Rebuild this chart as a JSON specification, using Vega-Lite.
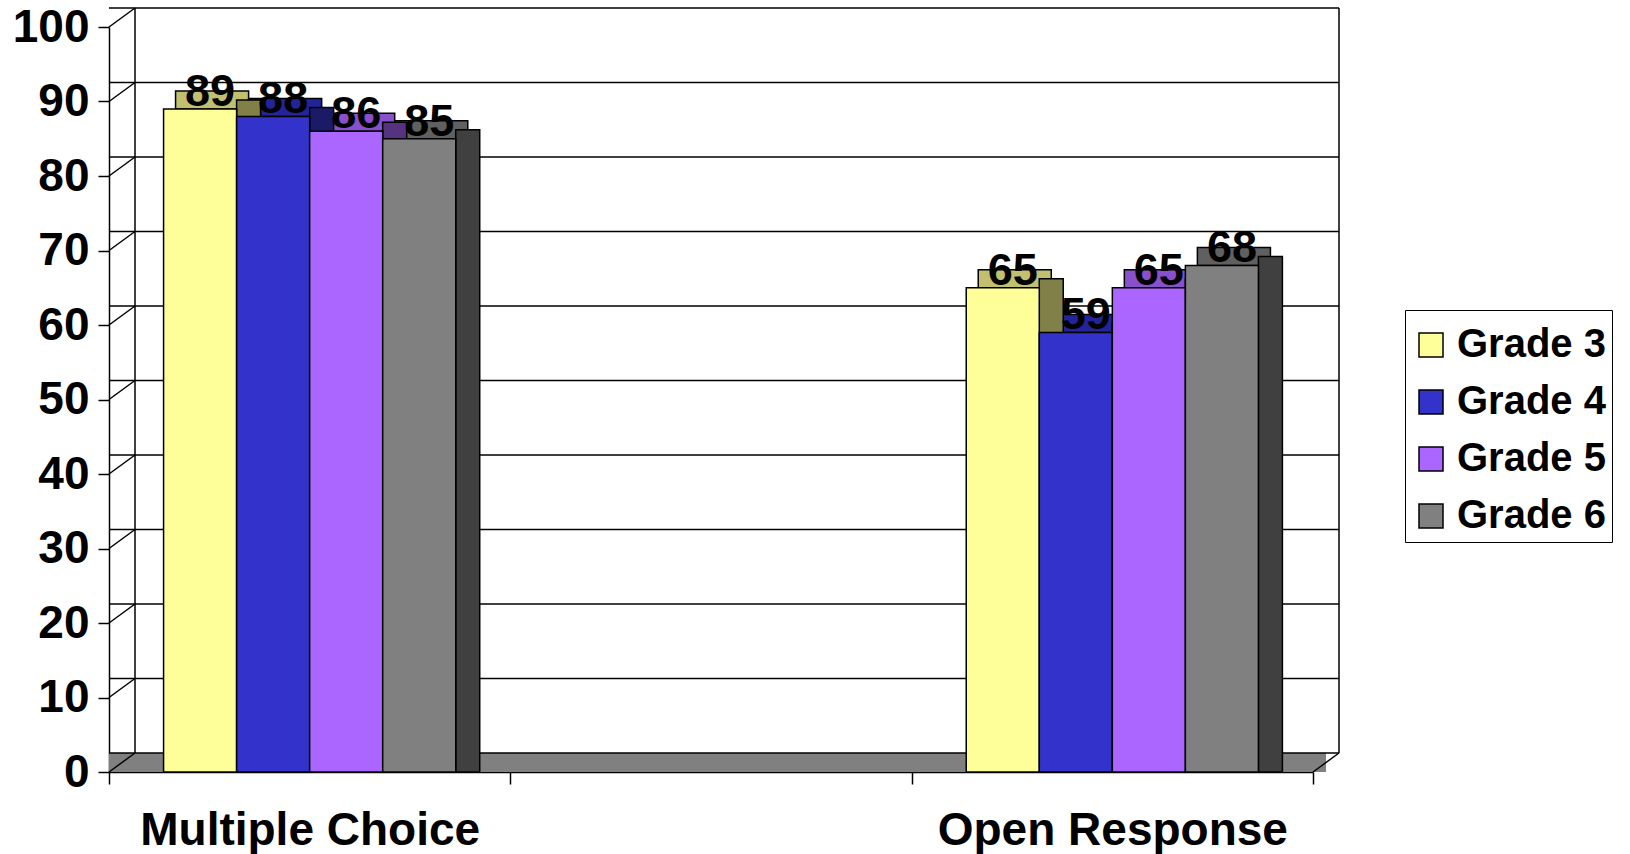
{
  "$schema": "https://vega.github.io/schema/vega-lite/v6.json",
  "width": 1204,
  "height": 745,
  "autosize": {"type": "none"},
  "padding": {"left": 109, "top": 27, "right": 317, "bottom": 82},
  "background": "white",
  "config": {
    "view": {"stroke": null},
    "font": "Liberation Sans",
    "axis": {"domainColor": "black", "domainWidth": 1.5, "tickColor": "black", "tickWidth": 1.5, "labelColor": "black", "labelFont": "Liberation Sans", "labelFontWeight": "bold", "grid": false, "zindex": 1, "labelLimit": 0},
    "axisX": {"tickSize": 12, "labelFontSize": 46, "labelPadding": 24, "tickBand": "extent", "labelAngle": 0},
    "axisY": {"tickSize": 11, "labelFontSize": 46, "labelPadding": 9},
    "legend": {"strokeColor": "black", "padding": 6, "symbolType": "square", "symbolSize": 576, "symbolStrokeColor": "black", "symbolStrokeWidth": 1.5, "labelFontSize": 40, "labelFont": "Liberation Sans", "labelFontWeight": "bold", "labelColor": "black", "rowPadding": 17, "labelOffset": 6, "fillColor": "white", "titleFontSize": 2, "titlePadding": 7}
  },
  "datasets": {
    "scores": [
      {"category": "Multiple Choice", "grade": "Grade 3", "value": 89},
      {"category": "Multiple Choice", "grade": "Grade 4", "value": 88},
      {"category": "Multiple Choice", "grade": "Grade 5", "value": 86},
      {"category": "Multiple Choice", "grade": "Grade 6", "value": 85},
      {"category": "Open Response", "grade": "Grade 3", "value": 65},
      {"category": "Open Response", "grade": "Grade 4", "value": 59},
      {"category": "Open Response", "grade": "Grade 5", "value": 65},
      {"category": "Open Response", "grade": "Grade 6", "value": 68}
    ],
    "grid": [
      {"tick": 0}, {"tick": 10}, {"tick": 20}, {"tick": 30}, {"tick": 40}, {"tick": 50},
      {"tick": 60}, {"tick": 70}, {"tick": 80}, {"tick": 90}, {"tick": 100}
    ]
  },
  "resolve": {"scale": {"color": "independent", "xOffset": "independent"}},
  "layer": [
    {
      "data": {"name": "grid"},
      "transform": [{"filter": "datum.tick == 0"}],
      "mark": {"type": "rule", "color": "#808080", "strokeWidth": 19, "xOffset": 13, "x2Offset": 13, "yOffset": -9.5},
      "encoding": {
        "y": {"field": "tick", "type": "quantitative", "scale": {"domain": [0, 100], "nice": false}, "title": null, "axis": {"values": [0, 10, 20, 30, 40, 50, 60, 70, 80, 90, 100]}}
      }
    },
    {
      "data": {"name": "grid"},
      "mark": {"type": "rule", "color": "black", "strokeWidth": 1.5, "xOffset": 26, "x2Offset": 26, "yOffset": -19},
      "encoding": {
        "y": {"field": "tick", "type": "quantitative", "title": null}
      }
    },
    {
      "data": {"name": "grid"},
      "mark": {"type": "rule", "color": "black", "strokeWidth": 1.5, "x2Offset": 26, "y2Offset": -19},
      "encoding": {
        "x": {"datum": "Multiple Choice", "type": "nominal", "bandPosition": 0, "title": null, "scale": {"type": "band", "domain": ["Multiple Choice", " ", "Open Response"], "paddingInner": 0, "paddingOuter": 0}},
        "x2": {"datum": "Multiple Choice", "bandPosition": 0},
        "y": {"field": "tick", "type": "quantitative", "title": null},
        "y2": {"field": "tick"}
      }
    },
    {
      "data": {"name": "grid"},
      "transform": [{"filter": "datum.tick == 0"}],
      "mark": {"type": "rule", "color": "black", "strokeWidth": 1.5, "xOffset": 26, "yOffset": -19, "y2Offset": -19},
      "encoding": {
        "x": {"datum": "Multiple Choice", "type": "nominal", "bandPosition": 0, "title": null, "scale": {"type": "band", "domain": ["Multiple Choice", " ", "Open Response"], "paddingInner": 0, "paddingOuter": 0}},
        "y": {"field": "tick", "type": "quantitative", "title": null},
        "y2": {"datum": 100}
      }
    },
    {
      "data": {"name": "grid"},
      "transform": [{"filter": "datum.tick == 0"}],
      "mark": {"type": "rule", "color": "black", "strokeWidth": 1.5, "xOffset": 26, "yOffset": -19, "y2Offset": -19},
      "encoding": {
        "x": {"datum": "Open Response", "type": "nominal", "bandPosition": 1, "title": null, "scale": {"type": "band", "domain": ["Multiple Choice", " ", "Open Response"], "paddingInner": 0, "paddingOuter": 0}},
        "y": {"field": "tick", "type": "quantitative", "title": null},
        "y2": {"datum": 100}
      }
    },
    {
      "data": {"name": "grid"},
      "transform": [{"filter": "datum.tick == 0"}],
      "mark": {"type": "rule", "color": "black", "strokeWidth": 1.5, "x2Offset": 26, "y2Offset": -19},
      "encoding": {
        "x": {"datum": "Open Response", "type": "nominal", "bandPosition": 1, "title": null, "scale": {"type": "band", "domain": ["Multiple Choice", " ", "Open Response"], "paddingInner": 0, "paddingOuter": 0}},
        "x2": {"datum": "Open Response", "bandPosition": 1},
        "y": {"field": "tick", "type": "quantitative", "title": null},
        "y2": {"field": "tick"}
      }
    },
    {
      "data": {"name": "scores"},
      "mark": {"type": "bar", "stroke": "black", "strokeWidth": 1.5, "y2Offset": -18},
      "encoding": {
        "x": {"field": "category", "type": "nominal", "title": null, "scale": {"type": "band", "domain": ["Multiple Choice", " ", "Open Response"], "paddingInner": 0, "paddingOuter": 0}},
        "xOffset": {"field": "grade", "type": "nominal", "scale": {"type": "band", "domain": ["Grade 3", "Grade 4", "Grade 5", "Grade 6"], "paddingInner": 0, "paddingOuter": 0.747, "range": [12, 413.33]}},
        "y": {"field": "value", "type": "quantitative", "stack": null, "title": null},
        "y2": {"field": "value"},
        "color": {"field": "grade", "type": "nominal", "legend": null, "scale": {"domain": ["Grade 3", "Grade 4", "Grade 5", "Grade 6"], "range": ["#C0C070", "#24249A", "#8850CC", "#606060"]}}
      }
    },
    {
      "data": {"name": "scores"},
      "mark": {"type": "bar", "stroke": "black", "strokeWidth": 1.5, "width": 24, "yOffset": -9, "y2Offset": -9},
      "encoding": {
        "x": {"field": "category", "type": "nominal", "title": null, "scale": {"type": "band", "domain": ["Multiple Choice", " ", "Open Response"], "paddingInner": 0, "paddingOuter": 0}},
        "xOffset": {"field": "grade", "type": "nominal", "scale": {"type": "band", "domain": ["Grade 3", "Grade 4", "Grade 5", "Grade 6"], "paddingInner": 0, "paddingOuter": 0.747, "range": [48.5, 449.83]}},
        "y": {"field": "value", "type": "quantitative", "stack": null, "title": null},
        "color": {"field": "grade", "type": "nominal", "legend": null, "scale": {"domain": ["Grade 3", "Grade 4", "Grade 5", "Grade 6"], "range": ["#808048", "#1A1A66", "#553380", "#404040"]}}
      }
    },
    {
      "data": {"name": "scores"},
      "mark": {"type": "bar", "stroke": "black", "strokeWidth": 1.5},
      "encoding": {
        "x": {"field": "category", "type": "nominal", "title": null, "scale": {"type": "band", "domain": ["Multiple Choice", " ", "Open Response"], "paddingInner": 0, "paddingOuter": 0}},
        "xOffset": {"field": "grade", "type": "nominal", "scale": {"type": "band", "domain": ["Grade 3", "Grade 4", "Grade 5", "Grade 6"], "paddingInner": 0, "paddingOuter": 0.747}},
        "y": {"field": "value", "type": "quantitative", "stack": null, "title": null},
        "color": {"field": "grade", "type": "nominal", "scale": {"domain": ["Grade 3", "Grade 4", "Grade 5", "Grade 6"], "range": ["#FFFF99", "#3333CC", "#AA66FF", "#808080"]}, "legend": {"title": " ", "orient": "none", "legendX": 1296, "legendY": 283}}
      }
    },
    {
      "data": {"name": "scores"},
      "mark": {"type": "text", "dx": 10, "dy": -3, "baseline": "alphabetic", "align": "center", "fontSize": 45, "fontWeight": "bold", "font": "Liberation Sans", "color": "black"},
      "encoding": {
        "x": {"field": "category", "type": "nominal", "title": null, "scale": {"type": "band", "domain": ["Multiple Choice", " ", "Open Response"], "paddingInner": 0, "paddingOuter": 0}},
        "xOffset": {"field": "grade", "type": "nominal", "scale": {"type": "band", "domain": ["Grade 3", "Grade 4", "Grade 5", "Grade 6"], "paddingInner": 0, "paddingOuter": 0.747}},
        "y": {"field": "value", "type": "quantitative", "stack": null, "title": null},
        "text": {"field": "value", "type": "quantitative"}
      }
    }
  ]
}
